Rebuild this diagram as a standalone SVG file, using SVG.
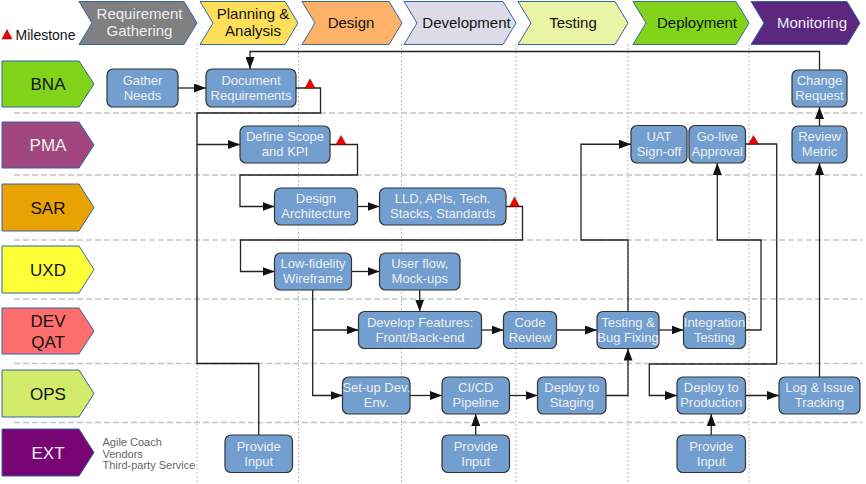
<svg xmlns="http://www.w3.org/2000/svg" width="866" height="484" viewBox="0 0 866 484">
<defs>
<style>
.bg{fill:#ffffff}
.hdr{stroke:#3465a4;stroke-width:1}
.ht{font-family:"Liberation Sans",Arial,sans-serif;font-size:15px;text-anchor:middle;fill:#111}
.htl{fill:#eeeeee}
.lane{stroke:#3465a4;stroke-width:1}
.lt{font-family:"Liberation Sans",Arial,sans-serif;font-size:17px;text-anchor:middle;fill:#111}
.ltl{fill:#eeeeee}
.vgrid{stroke:#bbbbbb;stroke-width:1;stroke-dasharray:2,2;fill:none}
.hgrid{stroke:#c3c3c3;stroke-width:1.5;stroke-dasharray:6,3;fill:none}
.node rect{fill:#729fcf;stroke:#333333;stroke-width:1.2}
.nt{font-family:"Liberation Sans",Arial,sans-serif;font-size:13px;text-anchor:middle;fill:#eeeeee}
.con{fill:none;stroke:#222222;stroke-width:1.3}
.arr{marker-end:url(#ah)}
.ms{fill:#ee0000;stroke:#880000;stroke-width:0.5}
.ext{font-family:"Liberation Sans",Arial,sans-serif;font-size:11px;fill:#666666}
</style>
<marker id="ah" markerWidth="12" markerHeight="9" refX="12" refY="4.5" orient="auto" markerUnits="userSpaceOnUse">
<path d="M0,0 L12,4.5 L0,9 z" fill="#111111"/>
</marker>
</defs>
<rect class="bg" x="0" y="0" width="866" height="484"/>

<g id="grid">
<path class="vgrid" d="M197,44 V484 M298.5,44 V484 M401.5,44 V484 M516,44 V484 M628,44 V484 M749,44 V484"/>
<path class="hgrid" d="M14,113 H862 M14,175 H862 M14,240 H862 M14,299 H862 M14,363.5 H862 M14,422.5 H862"/>
</g>

<g id="legend">
<polygon class="ms" points="2,39 12,39 7,29.5"/>
<text x="15.5" y="39.5" font-family="Liberation Sans, Arial, sans-serif" font-size="14" fill="#111">Milestone</text>
</g>

<g id="phases">
<g id="ph-req"><polygon class="hdr" fill="#808080" points="79,1.5 184,1.5 197,23 184,44.5 79,44.5 92,23"/><text class="ht htl" x="139.5" y="19">Requirement</text><text class="ht htl" x="139.5" y="35.5">Gathering</text></g>
<g id="ph-plan"><polygon class="hdr" fill="#ffde59" points="200,1.5 285,1.5 298,23 285,44.5 200,44.5 213,23"/><text class="ht" x="253" y="19">Planning &amp;</text><text class="ht" x="253" y="35.5">Analysis</text></g>
<g id="ph-design"><polygon class="hdr" fill="#ffb167" points="302,1.5 389,1.5 402,23 389,44.5 302,44.5 315,23"/><text class="ht" x="351" y="28">Design</text></g>
<g id="ph-dev"><polygon class="hdr" fill="#dddbe8" points="404,1.5 503,1.5 516,23 503,44.5 404,44.5 417,23"/><text class="ht" x="466.5" y="28">Development</text></g>
<g id="ph-test"><polygon class="hdr" fill="#e9f4a6" points="518,1.5 615,1.5 628,23 615,44.5 518,44.5 531,23"/><text class="ht" x="573" y="28">Testing</text></g>
<g id="ph-deploy"><polygon class="hdr" fill="#81d41a" points="633,1.5 736,1.5 749,23 736,44.5 633,44.5 646,23"/><text class="ht" x="697" y="28">Deployment</text></g>
<g id="ph-mon"><polygon class="hdr" fill="#5b277f" points="751,1.5 847,1.5 860,23 847,44.5 751,44.5 764,23"/><text class="ht htl" x="812" y="28">Monitoring</text></g>
</g>

<g id="lanes">
<g id="lane-bna"><polygon class="lane" fill="#81d41a" points="2,61 79,61 94,84 79,107 2,107"/><text class="lt" x="48" y="90">BNA</text></g>
<g id="lane-pma"><polygon class="lane" fill="#a1467e" points="2,122 79,122 94,145 79,168 2,168"/><text class="lt ltl" x="48" y="151">PMA</text></g>
<g id="lane-sar"><polygon class="lane" fill="#e8a202" points="2,184 79,184 94,207.5 79,231 2,231"/><text class="lt" x="48" y="213.5">SAR</text></g>
<g id="lane-uxd"><polygon class="lane" fill="#ffff38" points="2,246 79,246 94,269.5 79,293 2,293"/><text class="lt" x="48" y="275.5">UXD</text></g>
<g id="lane-dev"><polygon class="lane" fill="#ff6d6d" points="2,308 79,308 94,331 79,354 2,354"/><text class="lt" x="48" y="327">DEV</text><text class="lt" x="48" y="347.5">QAT</text></g>
<g id="lane-ops"><polygon class="lane" fill="#d4ea6b" points="2,370 79,370 94,393.5 79,417 2,417"/><text class="lt" x="48" y="399.5">OPS</text></g>
<g id="lane-ext"><polygon class="lane" fill="#780373" points="2,429 79,429 94,452.5 79,476 2,476"/><text class="lt ltl" x="48" y="458.5">EXT</text>
<text class="ext" x="102.5" y="446">Agile Coach</text><text class="ext" x="102.5" y="457.7">Vendors</text><text class="ext" x="102.5" y="469.4">Third-party Service</text></g>
</g>

<g id="connectors">
<path class="con arr" d="M178,88 H206"/>
<path class="con arr" d="M819.5,70 V51.5 H250 V69"/>
<path class="con arr" d="M296,88 H320.5 V113 H197 V144.5 H240"/>
<path class="con" d="M258.75,435 V363.5 H197 V144.5"/>
<path class="con arr" d="M330,144.5 H357.5 V175 H240 V206.5 H274.5"/>
<path class="con arr" d="M357.5,206.5 H379.5"/>
<path class="con arr" d="M506,206.5 H522.5 V240 H240.5 V271.5 H274.5"/>
<path class="con arr" d="M351.5,271.5 H379.5"/>
<path class="con arr" d="M419.7,290 V311.5"/>
<path class="con arr" d="M312.7,290 V395.5 H342.5"/>
<path class="con arr" d="M312.7,330 H358.5"/>
<path class="con arr" d="M481.5,330 H503.5"/>
<path class="con arr" d="M556.5,330 H597"/>
<path class="con arr" d="M659,330 H683.5"/>
<path class="con arr" d="M410,395.5 H442"/>
<path class="con arr" d="M475.75,435 V414"/>
<path class="con arr" d="M509.5,395.5 H537.5"/>
<path class="con arr" d="M606,395.5 H628 V348.5"/>
<path class="con arr" d="M628,311.5 V240 H581 V144.25 H631"/>
<path class="con arr" d="M745.5,330 H761 V240 H717.3 V163"/>
<path class="con arr" d="M745.5,144 H776.7 V364 H649.3 V395.5 H677"/>
<path class="con arr" d="M711.25,435 V414"/>
<path class="con arr" d="M745.5,395.5 H779"/>
<path class="con arr" d="M819.5,377 V163"/>
<path class="con arr" d="M819.5,126 V107"/>
</g>

<g id="milestones">
<polygon class="ms" points="305,88 315,88 310,79"/>
<polygon class="ms" points="336,144.5 346,144.5 341,135.5"/>
<polygon class="ms" points="509.5,206.5 519.5,206.5 514.5,197"/>
<polygon class="ms" points="748.5,144 758.5,144 753.5,135.5"/>
</g>

<g id="nodes">
<g id="n-gather" class="node"><rect x="107" y="69" width="71" height="38" rx="6"/><text class="nt" x="142.5" y="84.7">Gather</text><text class="nt" x="142.5" y="99.7">Needs</text></g>
<g id="n-docreq" class="node"><rect x="206" y="69" width="90" height="38" rx="6"/><text class="nt" x="251" y="84.7">Document</text><text class="nt" x="251" y="99.7">Requirements</text></g>
<g id="n-change" class="node"><rect x="792" y="70" width="55" height="37" rx="6"/><text class="nt" x="819.5" y="85.2">Change</text><text class="nt" x="819.5" y="100.2">Request</text></g>
<g id="n-scope" class="node"><rect x="240" y="126" width="90" height="37" rx="6"/><text class="nt" x="285" y="141.2">Define Scope</text><text class="nt" x="285" y="156.2">and KPI</text></g>
<g id="n-uat" class="node"><rect x="631" y="125.5" width="56" height="37.5" rx="6"/><text class="nt" x="659" y="141">UAT</text><text class="nt" x="659" y="156">Sign-off</text></g>
<g id="n-golive" class="node"><rect x="689" y="125.5" width="56.5" height="37.5" rx="6"/><text class="nt" x="717.25" y="141">Go-live</text><text class="nt" x="717.25" y="156">Approval</text></g>
<g id="n-review" class="node"><rect x="792" y="126" width="55" height="37" rx="6"/><text class="nt" x="819.5" y="141.2">Review</text><text class="nt" x="819.5" y="156.2">Metric</text></g>
<g id="n-arch" class="node"><rect x="274.5" y="188" width="83" height="37" rx="6"/><text class="nt" x="316" y="203.2">Design</text><text class="nt" x="316" y="218.2">Architecture</text></g>
<g id="n-lld" class="node"><rect x="379.5" y="188" width="126.5" height="37" rx="6"/><text class="nt" x="442.75" y="203.2">LLD, APIs, Tech.</text><text class="nt" x="442.75" y="218.2">Stacks, Standards</text></g>
<g id="n-lowfi" class="node"><rect x="274.5" y="253" width="77" height="37" rx="6"/><text class="nt" x="313" y="268.2">Low-fidelity</text><text class="nt" x="313" y="283.2">Wireframe</text></g>
<g id="n-userflow" class="node"><rect x="379.5" y="253" width="80.5" height="37" rx="6"/><text class="nt" x="419.75" y="268.2">User flow,</text><text class="nt" x="419.75" y="283.2">Mock-ups</text></g>
<g id="n-devfeat" class="node"><rect x="358.5" y="311.5" width="123" height="37" rx="6"/><text class="nt" x="420" y="326.7">Develop Features:</text><text class="nt" x="420" y="341.7">Front/Back-end</text></g>
<g id="n-codereview" class="node"><rect x="503.5" y="311.5" width="53" height="37" rx="6"/><text class="nt" x="530" y="326.7">Code</text><text class="nt" x="530" y="341.7">Review</text></g>
<g id="n-testing" class="node"><rect x="597" y="311.5" width="62" height="37" rx="6"/><text class="nt" x="628" y="326.7">Testing &amp;</text><text class="nt" x="628" y="341.7">Bug Fixing</text></g>
<g id="n-integ" class="node"><rect x="683.5" y="311.5" width="62" height="37" rx="6"/><text class="nt" x="714.5" y="326.7">Integration</text><text class="nt" x="714.5" y="341.7">Testing</text></g>
<g id="n-setup" class="node"><rect x="342.5" y="377" width="67.5" height="37" rx="6"/><text class="nt" x="376.25" y="392.2">Set-up Dev.</text><text class="nt" x="376.25" y="407.2">Env.</text></g>
<g id="n-cicd" class="node"><rect x="442" y="377" width="67.5" height="37" rx="6"/><text class="nt" x="475.75" y="392.2">CI/CD</text><text class="nt" x="475.75" y="407.2">Pipeline</text></g>
<g id="n-staging" class="node"><rect x="537.5" y="377" width="68.5" height="37" rx="6"/><text class="nt" x="571.75" y="392.2">Deploy to</text><text class="nt" x="571.75" y="407.2">Staging</text></g>
<g id="n-prod" class="node"><rect x="677" y="377" width="68.5" height="37" rx="6"/><text class="nt" x="711.25" y="392.2">Deploy to</text><text class="nt" x="711.25" y="407.2">Production</text></g>
<g id="n-log" class="node"><rect x="779" y="377" width="81" height="37" rx="6"/><text class="nt" x="819.5" y="392.2">Log &amp; Issue</text><text class="nt" x="819.5" y="407.2">Tracking</text></g>
<g id="n-input1" class="node"><rect x="225" y="435" width="67.5" height="37.5" rx="6"/><text class="nt" x="258.75" y="450.5">Provide</text><text class="nt" x="258.75" y="465.5">Input</text></g>
<g id="n-input2" class="node"><rect x="442" y="435" width="67.5" height="37.5" rx="6"/><text class="nt" x="475.75" y="450.5">Provide</text><text class="nt" x="475.75" y="465.5">Input</text></g>
<g id="n-input3" class="node"><rect x="677" y="435" width="68.5" height="37.5" rx="6"/><text class="nt" x="711.25" y="450.5">Provide</text><text class="nt" x="711.25" y="465.5">Input</text></g>
</g>
</svg>
